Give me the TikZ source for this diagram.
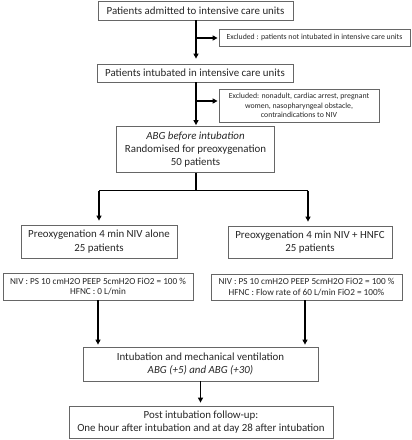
\documentclass[tikz,border=0pt]{standalone}
\usepackage{fontspec}
\setmainfont{Carlito}
\usetikzlibrary{arrows.meta}
\tikzset{
  box/.style={draw=black!60, line width=0.8pt, inner sep=0pt, align=center, text=black!85},
  fbig/.style={font=\fontsize{10.9}{13.3}\selectfont},
  fbigt/.style={font=\fontsize{10.9}{12.2}\selectfont},
  fsmall/.style={font=\fontsize{7.8}{9.3}\selectfont},
  fmid/.style={font=\fontsize{9.2}{10.8}\selectfont},
  conn/.style={line width=1.6pt, black},
  arr/.style={conn, -{Triangle[length=5pt,width=5pt]}},
}
\begin{document}
\begin{tikzpicture}[x=1pt,y=-1pt]
\useasboundingbox (0,0) rectangle (412,440);
\node[box,fbig,minimum width=195pt,minimum height=19pt] (b1) at (195.5,10.5) {Patients admitted to intensive care units};
\node[box,fsmall,minimum width=191pt,minimum height=17pt] (ex1) at (314.5,37.5) {Excluded : patients not intubated in intensive care units};
\node[box,fbig,minimum width=196pt,minimum height=18pt] (b2) at (195,73) {Patients intubated in intensive care units};
\node[box,fsmall,minimum width=160pt,minimum height=33pt] (ex2) at (299,105.5) {Excluded: nonadult, cardiac arrest, pregnant\\women, nasopharyngeal obstacle,\\contraindications to NIV};
\node[box,fbig,minimum width=158pt,minimum height=46pt] (b3) at (195.5,149.5) {\textit{ABG before intubation}\\Randomised for preoxygenation\\50 patients};
\node[box,fbig,minimum width=156pt,minimum height=33pt] (b4l) at (99,241.5) {Preoxygenation 4 min NIV alone\\25 patients};
\node[box,fbig,minimum width=164pt,minimum height=32pt] (b4r) at (310,242) {Preoxygenation 4 min NIV + HNFC\\25 patients};
\node[box,fmid,minimum width=190pt,minimum height=27pt] (b5l) at (98,286.5) {NIV : PS 10 cmH2O PEEP 5cmH2O FiO2 = 100 \%\\HFNC : 0 L/min};
\node[box,fmid,minimum width=191pt,minimum height=26pt] (b5r) at (306.5,287) {NIV : PS 10 cmH2O PEEP 5cmH2O FiO2 = 100 \%\\HFNC : Flow rate of 60 L/min FiO2 = 100\%};
\node[box,fbig,minimum width=235pt,minimum height=34pt] (b6) at (200.5,364) {Intubation and mechanical ventilation\\\textit{ABG (+5) and ABG (+30)}};
\node[box,fbigt,minimum width=264pt,minimum height=32pt] (b7) at (201,422) {Post intubation follow-up:\\One hour after intubation and at day 28 after intubation};
% junctions
\coordinate (j1) at (196,38);
\coordinate (j2) at (196,101);
\coordinate (j3) at (196,190.5);
\coordinate (jl) at (99,190.5);
\coordinate (jr) at (308,190.5);
\coordinate (jb) at (305,0);
% connectors
\draw[arr, shorten >=5pt] (b1.south -| j1) -- (b2.north -| j1);
\draw[arr, shorten >=1pt] (j1) -- (ex1.west |- j1);
\draw[arr, shorten >=1pt] (b2.south -| j2) -- (b3.north -| j2);
\draw[arr, shorten >=1pt] (j2) -- (ex2.west |- j2);
\draw[conn] (b3.south -| j3) -- (j3);
\draw[conn] (jl) -- (jr);
\draw[arr, shorten >=4pt] (jl) -- (b4l.north -| jl);
\draw[arr, shorten >=4pt] (jr) -- (b4r.north -| jr);
\draw[arr, shorten >=2pt] (b5l.south) -- (b6.north -| b5l.south);
\draw[arr, shorten >=2pt] (b5r.south -| jb) -- (b6.north -| jb);
\draw[arr, shorten >=3pt] (b6.south) -- (b7.north -| b6.south);
\end{tikzpicture}
\end{document}
